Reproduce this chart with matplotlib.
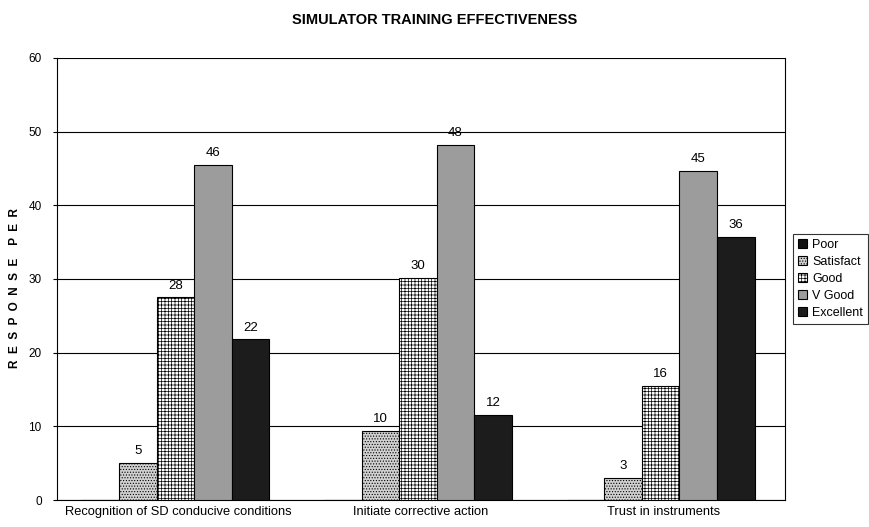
import matplotlib
matplotlib.use("Agg")
import matplotlib.pyplot as plt
import numpy as np

plt.rcParams['font.family'] = ['Liberation Sans', 'DejaVu Sans']
plt.rcParams['hatch.linewidth'] = 0.5

categories = ["Recognition of SD conducive conditions", "Initiate corrective action", "Trust in instruments"]
series = ["Poor", "Satisfact", "Good", "V Good", "Excellent"]
poor = [0, 0, 0]
satisfact = [5.0, 9.4, 3.0]
good = [27.5, 30.2, 15.5]
vgood = [45.5, 48.2, 44.7]
excellent = [21.8, 11.5, 35.7]
labels_satisfact = ["5", "10", "3"]
labels_good = ["28", "30", "16"]
labels_vgood = ["46", "48", "45"]
labels_excellent = ["22", "12", "36"]
yticks = [0, 10, 20, 30, 40, 50, 60]

values = [poor, satisfact, good, vgood, excellent]
labels = [None, labels_satisfact, labels_good, labels_vgood, labels_excellent]
faces = ["#111111", "#d0d0d0", "#ffffff", "#9c9c9c", "#1c1c1c"]
hatches = [None, "......", "+++++", None, None]

fig = plt.figure(figsize=(8.7, 5.27), dpi=100)
ax = fig.add_axes([0.0655, 0.0512, 0.8365, 0.8388])

x = np.arange(len(categories))
w = 0.155
for i, (vals, fc, h, lab) in enumerate(zip(values, faces, hatches, labels)):
    pos = x + (i - 2) * w - 0.012
    bars = ax.bar(pos, vals, width=w, facecolor=fc, edgecolor="black", linewidth=0.8,
                  hatch=h, label=series[i], zorder=3)
    if lab is not None:
        for b, t in zip(bars, lab):
            ax.text(b.get_x() + b.get_width() / 2, b.get_height() + 0.8, t,
                    ha="center", va="bottom", fontsize=9.5, zorder=4)

ax.set_xlim(-0.5, 2.5)
ax.set_ylim(0, 60)
ax.set_yticks(yticks)
ax.set_yticklabels([str(v) for v in yticks], fontsize=8.5)
ax.set_xticks(x)
ax.set_xticklabels(categories, fontsize=9.3)
ax.tick_params(axis="x", length=0, pad=4)
ax.tick_params(axis="y", length=3, direction="out", pad=8)
ax.yaxis.grid(True, color="black", linewidth=0.8, zorder=0)
ax.spines["top"].set_visible(False)
for s in ["left", "bottom", "right"]:
    ax.spines[s].set_linewidth(0.8)

fig.text(15 / 870, 1 - 288 / 527, "R  E  S  P  O  N  S  E    P  E  R", rotation=90,
         ha="center", va="center", fontsize=8.5, fontweight="bold")
fig.suptitle("SIMULATOR TRAINING EFFECTIVENESS", fontsize=10.5, fontweight="bold", y=0.975)

leg = ax.legend(loc="center left", bbox_to_anchor=(1.012, 0.5), fontsize=9,
                frameon=True, fancybox=False, edgecolor="black", handlelength=0.7,
                handleheight=0.7, handletextpad=0.4, borderpad=0.4, labelspacing=0.4,
                borderaxespad=0)
leg.get_frame().set_linewidth(0.8)

fig.savefig("out.png", dpi=100)
